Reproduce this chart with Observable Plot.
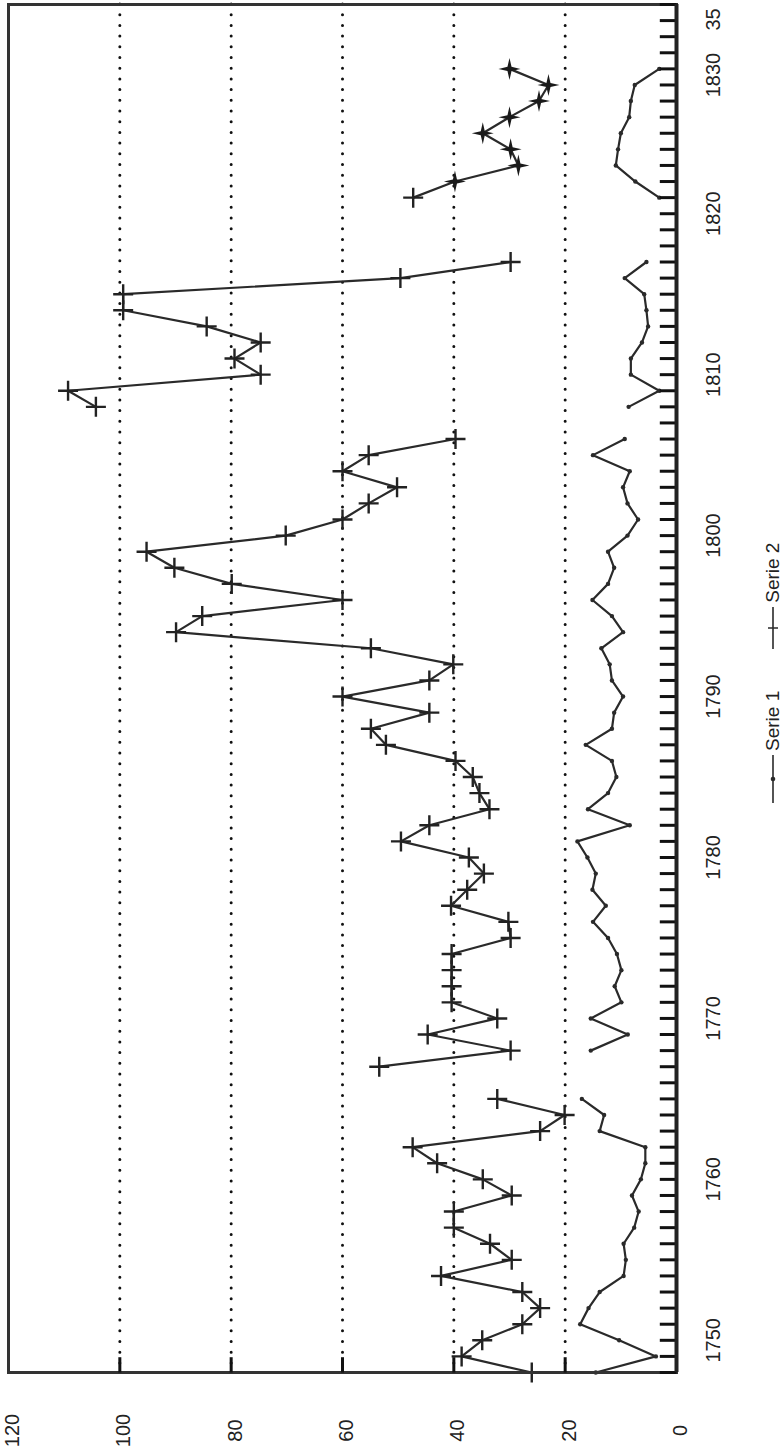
<!DOCTYPE html>
<html><head><meta charset="utf-8">
<script src="https://cdn.jsdelivr.net/npm/d3@7"></script>
<script src="https://cdn.jsdelivr.net/npm/@observablehq/plot@0.6"></script>
<style>
html,body{margin:0;padding:0;background:#fff;}
#wrap{position:relative;width:784px;height:1453px;overflow:hidden;background:#fff;}
#legend{position:absolute;left:649px;top:669px;width:248px;height:24px;transform:rotate(-90deg);transform-origin:50% 50%;
  display:flex;align-items:center;font-family:"Liberation Sans Narrow","Arial Narrow","Liberation Sans",Arial,sans-serif;font-size:19px;color:#222;white-space:nowrap;}
#legend svg{display:block;flex:none;}
</style></head><body>
<div id="wrap"><div id="chart"></div><div id="legend"></div></div>
<script>
// ---- data ----
const startYear = 1748;
const endYear = 1833;
const serie1 = [
  14.5, 3.7, 10.3, 17.3, 15.8, 13.8, 9.5, 9.1, 9.5, 7.6,        // 1748-1757
  6.8, 8, 6.4, 5.6, 5.6, 13.8, 13, 17, null, null,              // 1758-1767
  15.4, 8.75, 15.4, 9.9, 11.1, 9.9, 10.7, 12.3, 15, 12.7,       // 1768-1777
  15.1, 14.5, 16, 17.8, 8.4, 15.9, 12.3, 10.8, 11.6, 16.3,      // 1778-1787
  11.6, 11.2, 9.6, 11.6, 12, 13.5, 9.6, 11.6, 15.1, 12.3,       // 1788-1797
  11.2, 12.3, 8.8, 6.9, 8.8, 9.6, 8.4, 15, 9.3, null,           // 1798-1807
  8.6, 3.1, 8.2, 8.2, 6.2, 5.1, 5.4, 5.8, 9.3, 5.4,             // 1808-1817
  null, null, null, 3.1, 7.4, 10.9, 10.5, 10, 8.5, 8.2,         // 1818-1827
  7.5, 3.1                                                      // 1828-1829
];
const serie2 = [
  26, 38.6, 34.9, 27.7, 24.5, 27.7, 42.3, 29.6, 33.5, 40,       // 1748-1757
  40, 29.6, 34.8, 43, 47.4, 24.5, 20.1, 32.2, null, 53.4,       // 1758-1767
  29.8, 44.7, 32.2, 40.4, 40.4, 40.4, 40.4, 29.8, 30.2, 40.5,   // 1768-1777
  37.6, 34.6, 37.3, 49.5, 44.4, 33.6, 35.4, 36.6, 39.7, 52.2,   // 1778-1787
  54.9, 44.4, 60, 44.4, 40.1, 54.9, 89.9, 85.2, 60, 79.9,       // 1788-1797
  90.2, 95.2, 70.2, 60, 55.3, 50.2, 60, 55.3, 39.7, null,       // 1798-1807
  104.3, 109.3, 74.7, 79.4, 74.7, 84.4, 99.4, 99.4, 49.6, 29.8, // 1808-1817
  null, null, null, 47.3, 39.8, 28.4, 29.8, 34.8, 30, 24.7,     // 1818-1827
  23, 30                                                        // 1828-1829
];
const starFromYear = 1822;
const yearLabelYears = [1750, 1760, 1770, 1780, 1790, 1800, 1810, 1820, 1830];
const yearLabelText = ["1750", "1760", "1770", "1780", "1790", "1800", "1810", "1820", "1830\u00a0\u00a0\u00a0\u00a035"];
const valueTicks = [0, 20, 40, 60, 80, 100, 120];
const gridValues = [20, 40, 60, 80, 100];
const seriesNames = ["Serie 1", "Serie 2"];

// ---- build ----
const FONT = "'Liberation Sans Narrow','Arial Narrow','Liberation Sans',Arial,sans-serif";
const INK = "#2a2a2a";
const rows1 = serie1.map((v, i) => ({year: startYear + i, v}));
const rows2 = serie2.map((v, i) => ({year: startYear + i, v}));
const tickYears = d3.range(startYear, endYear + 1);
const tickLen = 3;      // value units (≈17px)
const tickLenY = 0.95;  // year units (≈15px)

const plusSym = {draw(ctx, size) {
  const r = Math.sqrt(size / Math.PI);
  ctx.moveTo(-r, 0); ctx.lineTo(r, 0);
  ctx.moveTo(0, -r); ctx.lineTo(0, r);
}};
const star4 = {draw(ctx, size) {
  const r = Math.sqrt(size / Math.PI), ri = r * 0.26;
  for (let i = 0; i < 8; i++) {
    const a = i * Math.PI / 4 - Math.PI / 2, rr = i % 2 ? ri : r;
    const px = rr * Math.cos(a), py = rr * Math.sin(a);
    if (i) ctx.lineTo(px, py); else ctx.moveTo(px, py);
  }
  ctx.closePath();
}};

const chart = Plot.plot({
  width: 784, height: 1453,
  marginLeft: 8, marginRight: 108, marginTop: 4, marginBottom: 81,
  x: {domain: [120, 0], axis: null},
  y: {domain: [startYear, endYear], axis: null},
  style: {fontFamily: FONT, color: INK},
  marks: [
    Plot.ruleX(gridValues, {x: d => d, stroke: "#111", strokeWidth: 3, strokeDasharray: "0,10.7", strokeLinecap: "round"}),
    Plot.line(rows1, {x: "v", y: "year", stroke: INK, strokeWidth: 2.2}),
    Plot.dot(rows1.filter(d => d.v != null), {x: "v", y: "year", r: 2.2, fill: INK, stroke: "none"}),
    Plot.line(rows2, {x: "v", y: "year", stroke: INK, strokeWidth: 2.2}),
    Plot.dot(rows2.filter(d => d.v != null && d.year < starFromYear), {x: "v", y: "year", symbol: plusSym, r: 10, fill: "none", stroke: "#222", strokeWidth: 2.4}),
    Plot.dot(rows2.filter(d => d.v != null && d.year >= starFromYear), {x: "v", y: "year", symbol: star4, r: 11, fill: "#1a1a1a", stroke: "none"}),
    Plot.frame({stroke: "#333", strokeWidth: 3}),
    Plot.link(gridValues, {x1: d => d, x2: d => d, y1: d => startYear, y2: d => startYear + tickLenY, stroke: "#111", strokeWidth: 3}),
    Plot.link(tickYears, {x1: d => 0, x2: d => tickLen, y1: d => d, y2: d => d, stroke: "#111", strokeWidth: 3}),
    Plot.ruleX([0], {x: d => d, stroke: "#222", strokeWidth: 4}),
    Plot.text(yearLabelYears, {y: d => d, text: (d, i) => yearLabelText[i], frameAnchor: "right", dx: 37, rotate: -90,
      textAnchor: "middle", lineAnchor: "middle", fontSize: 20, fill: "#222"}),
    Plot.text(valueTicks, {x: d => d, text: d => String(d), frameAnchor: "bottom", dy: 58, dx: 4, rotate: -90,
      textAnchor: "middle", lineAnchor: "middle", fontSize: 20, fill: "#222"})
  ]
});
document.getElementById("chart").append(chart);

// ---- legend (rotated, reads bottom to top like the chart) ----
const legend = document.getElementById("legend");
function key(kind) {
  const w = kind === 0 ? 52 : 46;
  const ns = "http://www.w3.org/2000/svg";
  const s = document.createElementNS(ns, "svg");
  s.setAttribute("width", w); s.setAttribute("height", 24);
  const l = document.createElementNS(ns, "line");
  l.setAttribute("x1", 2); l.setAttribute("x2", w - 2); l.setAttribute("y1", 12); l.setAttribute("y2", 12);
  l.setAttribute("stroke", INK); l.setAttribute("stroke-width", 1.6);
  s.append(l);
  if (kind === 0) {
    const c = document.createElementNS(ns, "circle");
    c.setAttribute("cx", w / 2); c.setAttribute("cy", 12); c.setAttribute("r", 2.3); c.setAttribute("fill", INK);
    s.append(c);
  } else {
    const p = document.createElementNS(ns, "path");
    p.setAttribute("d", `M${w/2},7V17`);
    p.setAttribute("stroke", INK); p.setAttribute("stroke-width", 1.4);
    s.append(p);
  }
  return s;
}
seriesNames.forEach((name, i) => {
  legend.append(key(i));
  const t = document.createElement("span");
  t.textContent = name;
  t.style.marginLeft = "2px";
  if (i === 0) t.style.marginRight = "40px";
  legend.append(t);
});
</script>
</body></html>
